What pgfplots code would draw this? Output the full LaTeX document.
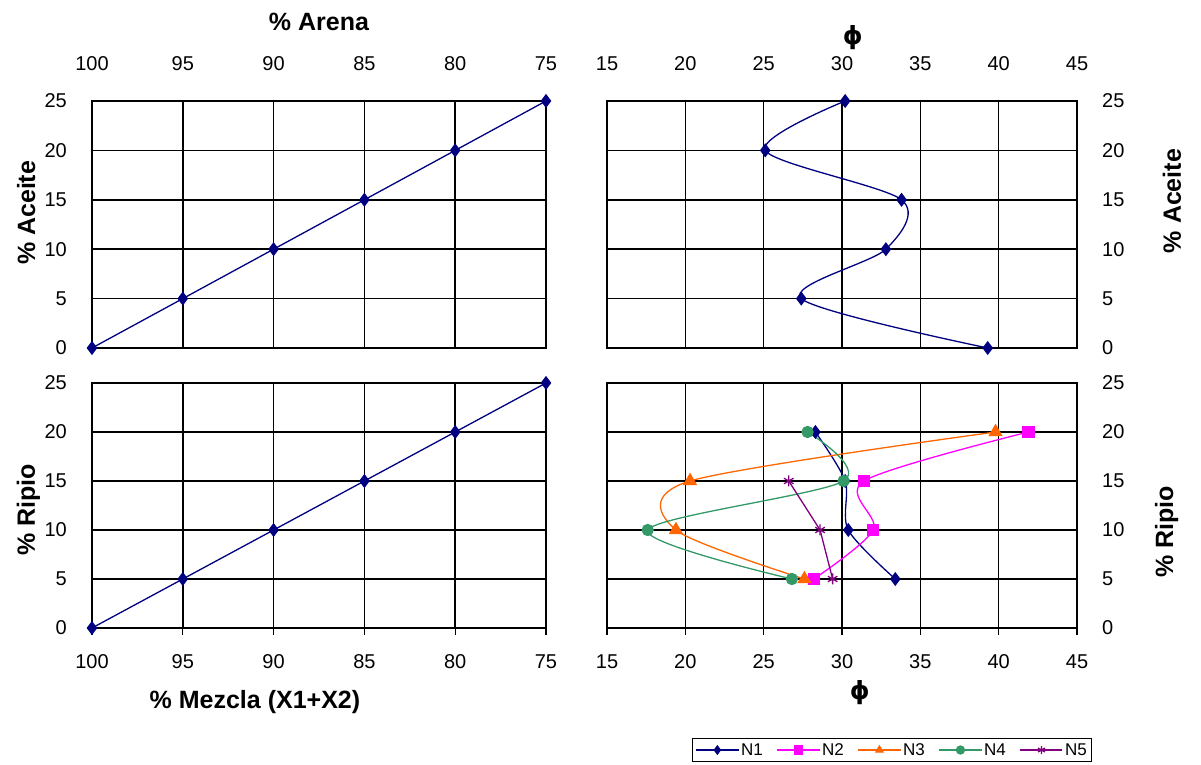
\documentclass[border=0pt]{standalone}
\usepackage{fontspec}
\setmainfont{Liberation Sans}
\newfontfamily\phifont{DejaVu Sans}
\usepackage{pgfplots}
\pgfplotsset{compat=1.18}

\definecolor{cNa}{RGB}{0,0,128}
\definecolor{cNb}{RGB}{255,0,255}
\definecolor{cNc}{RGB}{255,102,0}
\definecolor{cNd}{RGB}{51,153,102}
\definecolor{cNe}{RGB}{128,0,128}

\newcommand{\phisym}{{\phifont\bfseries ϕ}}

\pgfplotsset{
  panel/.style={
    scale only axis,
    ymin=0, ymax=25, ytick={0,5,...,25},
    grid=major,
    major grid style={black, line width=1.6pt},
    axis line style={black, line width=1.2pt},
    ytick style={draw=none},
    xtick style={black, line width=1.2pt},
    tick align=outside,
    major tick length=7pt,
    tick label style={font=\fontsize{20}{20}\selectfont, inner sep=0pt},
    /pgf/number format/assume math mode=true,
    label style={font=\bfseries\fontsize{25}{25}\selectfont, anchor=center},
    clip=false,
  },
  toppanel/.style={height=247pt, xtick pos=right, xticklabel pos=right,
    xtick style={draw=none},
    xticklabel style={anchor=center, yshift=30pt}},
  botpanel/.style={height=245pt, xtick pos=left, xticklabel pos=left,
    xticklabel style={anchor=center, yshift=-27pt}},
  leftpanel/.style={panel, width=454pt, x dir=reverse,
    xmin=75, xmax=100, xtick={75,80,...,100},
    ytick pos=left, yticklabel pos=left,
    yticklabel style={anchor=east, xshift=-18pt}},
  rightpanel/.style={panel, width=470pt,
    xmin=15, xmax=45, xtick={15,20,...,45},
    ytick pos=right, yticklabel pos=right,
    yticklabel style={anchor=west, xshift=18pt}},
  line/.style={line width=1.3pt},
}

\begin{document}
\begin{tikzpicture}[x=1pt,y=1pt]
\useasboundingbox (0,0) rectangle (1201,765);

% upper left: oil content against sand content
\begin{axis}[leftpanel, toppanel, at={(92pt,417pt)}, anchor=south west,
  xlabel={\% Arena}, ylabel={\% Aceite},
  xlabel style={at={(axis description cs:0.5,1.32)}},
  ylabel style={at={(axis description cs:-0.145,0.547)}}]
\addplot[cNa, line, mark=diamond*, mark size=6pt] coordinates {
  (100,0) (95,5) (90,10) (85,15) (80,20) (75,25)};
\end{axis}

% upper right: oil content against friction angle
\begin{axis}[rightpanel, toppanel, at={(607pt,417pt)}, anchor=south west,
  xlabel={\phisym}, ylabel={\% Aceite},
  xlabel style={at={(axis description cs:0.523,1.255)}},
  ylabel style={at={(axis description cs:1.202,0.595)}}]
\addplot[cNa, line, smooth, mark=diamond*, mark size=6pt] coordinates {
  (39.3,0) (27.4,5) (32.8,10) (33.8,15) (25.1,20) (30.2,25)};
\end{axis}

% lower left: gravel content against mixture content
\begin{axis}[leftpanel, botpanel, at={(92pt,137pt)}, anchor=south west,
  xlabel={\% Mezcla (X1+X2)}, ylabel={\% Ripio},
  xlabel style={at={(axis description cs:0.359,-0.302)}},
  ylabel style={at={(axis description cs:-0.14,0.482)}}]
\addplot[cNa, line, mark=diamond*, mark size=6pt] coordinates {
  (100,0) (95,5) (90,10) (85,15) (80,20) (75,25)};
\end{axis}

% lower right: gravel content against friction angle, five series
\begin{axis}[rightpanel, botpanel, at={(607pt,137pt)}, anchor=south west,
  xlabel={\phisym}, ylabel={\% Ripio},
  xlabel style={at={(axis description cs:0.538,-0.265)}},
  ylabel style={at={(axis description cs:1.191,0.392)}},
  legend columns=5,
  legend style={at={(axis description cs:0.607,-0.498)}, anchor=center,
    draw=black, line width=1pt, inner sep=3pt,
    font=\fontsize{17}{17}\selectfont,
    /tikz/every even column/.append style={column sep=12pt}},
  legend image code/.code={
    \draw[#1, mark size=4pt, mark repeat=2, mark phase=2] plot coordinates {(0pt,0pt) (21pt,0pt) (42pt,0pt)};}]
\addplot[cNa, line, smooth, mark=diamond*, mark size=6pt] coordinates {
  (33.4,5) (30.4,10) (30.2,15) (28.3,20)};
\addlegendentry{N1}
\addplot[cNb, line, smooth, mark=square*, mark size=5.5pt] coordinates {
  (28.2,5) (32.0,10) (31.4,15) (41.9,20)};
\addlegendentry{N2}
\addplot[cNc, line, smooth, mark=triangle*, mark size=7pt] coordinates {
  (27.6,5) (19.4,10) (20.3,15) (39.8,20)};
\addlegendentry{N3}
\addplot[cNd, line, smooth, mark=*, mark size=5.5pt] coordinates {
  (26.8,5) (17.6,10) (30.1,15) (27.8,20)};
\addlegendentry{N4}
\addplot[cNe, line, mark=asterisk, mark size=5.5pt, mark options={line width=1.3pt}] coordinates {
  (29.4,5) (28.6,10) (26.6,15)};
\addlegendentry{N5}
\end{axis}
\end{tikzpicture}
\end{document}
